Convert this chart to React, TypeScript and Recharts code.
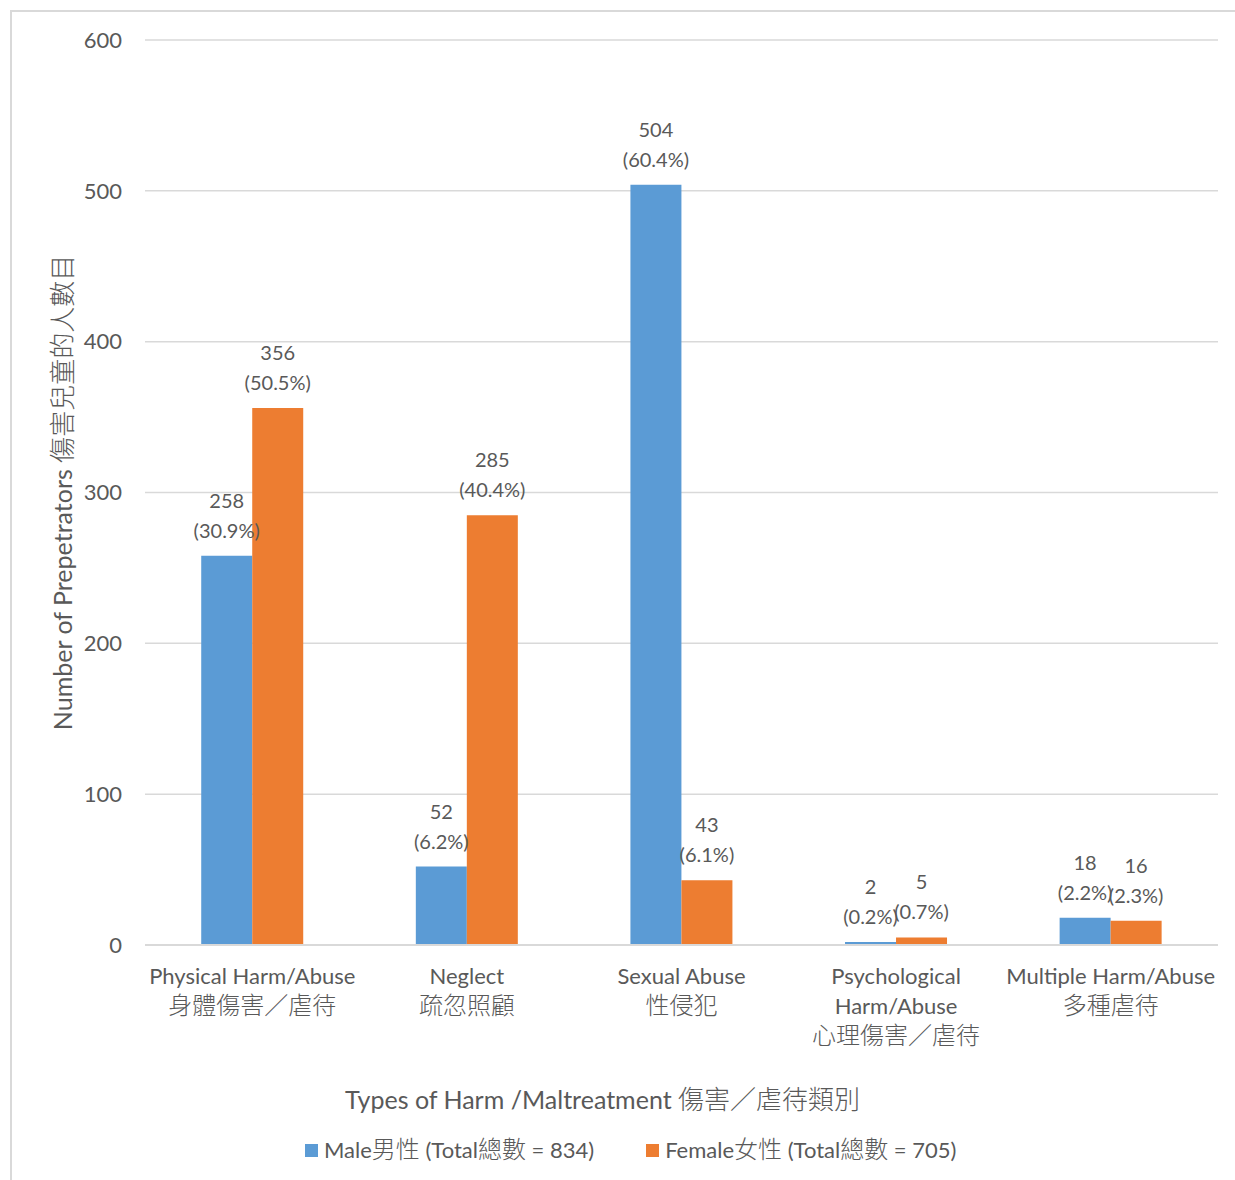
import { BarChart, Bar, XAxis, YAxis, CartesianGrid, LabelList, Legend } from 'recharts';

// Categories (English + Chinese, one label line per "\n")
const categories = [
  'Physical Harm/Abuse\n身體傷害／虐待',
  'Neglect\n疏忽照顧',
  'Sexual Abuse\n性侵犯',
  'Psychological\nHarm/Abuse\n心理傷害／虐待',
  'Multiple Harm/Abuse\n多種虐待',
];
const maleCounts = [258, 52, 504, 2, 18];
const femaleCounts = [356, 285, 43, 5, 16];
const malePercents = ['30.9%', '6.2%', '60.4%', '0.2%', '2.2%'];
const femalePercents = ['50.5%', '40.4%', '6.1%', '0.7%', '2.3%'];
const yTicks = [0, 100, 200, 300, 400, 500, 600];

const maleName = 'Male男性 (Total總數 = 834)';
const femaleName = 'Female女性 (Total總數 = 705)';
const seriesOrder = ['male', 'female'];
const yTitle = 'Number of Prepetrators 傷害兒童的人數目';
const xTitle = 'Types of Harm /Maltreatment 傷害／虐待類別';

const data = categories.map((name, i) => ({
  name,
  male: maleCounts[i],
  female: femaleCounts[i],
}));

const FONT = "Lato, 'Noto Sans CJK TC', sans-serif";
const TEXT = '#595959';
const BLUE = '#5B9BD5';
const ORANGE = '#ED7D31';
const GRID = '#D9D9D9';

// split a string into latin / CJK runs so each can get its own size
const isCJK = (ch: string) => /[\u2e80-\u9fff\uff00-\uffef]/.test(ch);
function splitRuns(s: string) {
  const runs: { text: string; cjk: boolean }[] = [];
  for (const ch of s) {
    const c = isCJK(ch);
    const last = runs[runs.length - 1];
    if (last && last.cjk === c) last.text += ch;
    else runs.push({ text: ch, cjk: c });
  }
  return runs;
}
function svgRuns(s: string, latin: number, cjk: number) {
  return splitRuns(s).map((r, i) => (
    <tspan key={i} fontSize={r.cjk ? cjk : latin} fontWeight={r.cjk ? 300 : 400}>{r.text}</tspan>
  ));
}

function CategoryTick({ x, y, payload }: any) {
  const lines = String(payload.value).split('\n');
  return (
    <g>
      {lines.map((line, i) => (
        <text key={i} x={x} y={y + 39 + i * 30} textAnchor="middle" fill={TEXT} fontFamily={FONT}>
          {svgRuns(line, 22, 24)}
        </text>
      ))}
    </g>
  );
}

function barLabel(percents: string[]) {
  return (props: any) => {
    const { x, y, width, value, index } = props;
    const cx = Number(x) + Number(width) / 2;
    return (
      <text x={cx} y={Number(y)} textAnchor="middle" fill={TEXT} fontFamily={FONT} fontSize={20}>
        <tspan x={cx} dy={-48}>{value}</tspan>
        <tspan x={cx} dy={30}>({percents[index]})</tspan>
      </text>
    );
  };
}

function LegendContent({ payload }: any) {
  const items = [...(payload || [])].sort(
    (a: any, b: any) => seriesOrder.indexOf(a.dataKey) - seriesOrder.indexOf(b.dataKey)
  );
  return (
    <div style={{ display: 'flex', fontFamily: FONT, color: TEXT, lineHeight: '30px' }}>
      {items.map((entry: any, i: number) => (
        <div key={i} style={{ display: 'flex', alignItems: 'center', marginRight: 52 }}>
          <span style={{ width: 13, height: 13, background: entry.color, marginRight: 6, display: 'inline-block' }} />
          <span>
            {splitRuns(String(entry.value)).map((r, j) => (
              <span key={j} style={{ fontSize: r.cjk ? 24 : 22, fontWeight: r.cjk ? 300 : 400 }}>{r.text}</span>
            ))}
          </span>
        </div>
      ))}
    </div>
  );
}

export default function App() {
  return (
    <div style={{ position: 'absolute', left: 0, top: 0, width: 1235, height: 1180, overflow: 'hidden', background: '#fff' }}>
      <div style={{ position: 'absolute', left: 10, top: 10, width: 1400, height: 1400, border: `2px solid ${GRID}` }} />
      <div style={{ position: 'absolute', left: 0, top: 0 }}>
        <BarChart
          width={1235}
          height={1180}
          data={data}
          margin={{ top: 40, right: 17, left: 25, bottom: 85 }}
          barCategoryGap="26.2%"
          barGap={0}
        >
          <CartesianGrid vertical={false} stroke={GRID} strokeWidth={1.5} />
          <XAxis
            dataKey="name"
            height={150}
            tickSize={0}
            tickMargin={0}
            tickLine={false}
            axisLine={{ stroke: GRID, strokeWidth: 2 }}
            tick={<CategoryTick />}
            interval={0}
            label={{
              content: ({ viewBox }: any) => (
                <text
                  x={viewBox.x + viewBox.width / 2 - 79}
                  y={viewBox.y + 164}
                  textAnchor="middle"
                  fill={TEXT}
                  fontFamily={FONT}
                >
                  {svgRuns(xTitle, 25, 26)}
                </text>
              ),
            }}
          />
          <YAxis
            width={120}
            domain={[0, 600]}
            ticks={yTicks}
            tickSize={0}
            tickMargin={23}
            tickLine={false}
            axisLine={false}
            tick={{ fill: TEXT, fontFamily: FONT, fontSize: 22 }}
            label={{
              content: ({ viewBox }: any) => {
                const cx = viewBox.x + 37;
                const cy = viewBox.y + viewBox.height / 2;
                return (
                  <text
                    x={cx}
                    y={cy}
                    transform={`rotate(-90, ${cx}, ${cy})`}
                    textAnchor="middle"
                    dominantBaseline="central"
                    fill={TEXT}
                    fontFamily={FONT}
                  >
                    {svgRuns(yTitle, 25, 26)}
                  </text>
                );
              },
            }}
          />
          <Legend
            layout="horizontal"
            verticalAlign="middle"
            align="center"
            content={<LegendContent />}
            wrapperStyle={{ top: 1134, left: 305, width: 'auto' }}
          />
          <Bar dataKey="male" name={maleName} fill={BLUE} isAnimationActive={false}>
            <LabelList dataKey="male" content={barLabel(malePercents)} />
          </Bar>
          <Bar dataKey="female" name={femaleName} fill={ORANGE} isAnimationActive={false}>
            <LabelList dataKey="female" content={barLabel(femalePercents)} />
          </Bar>
        </BarChart>
      </div>
    </div>
  );
}
